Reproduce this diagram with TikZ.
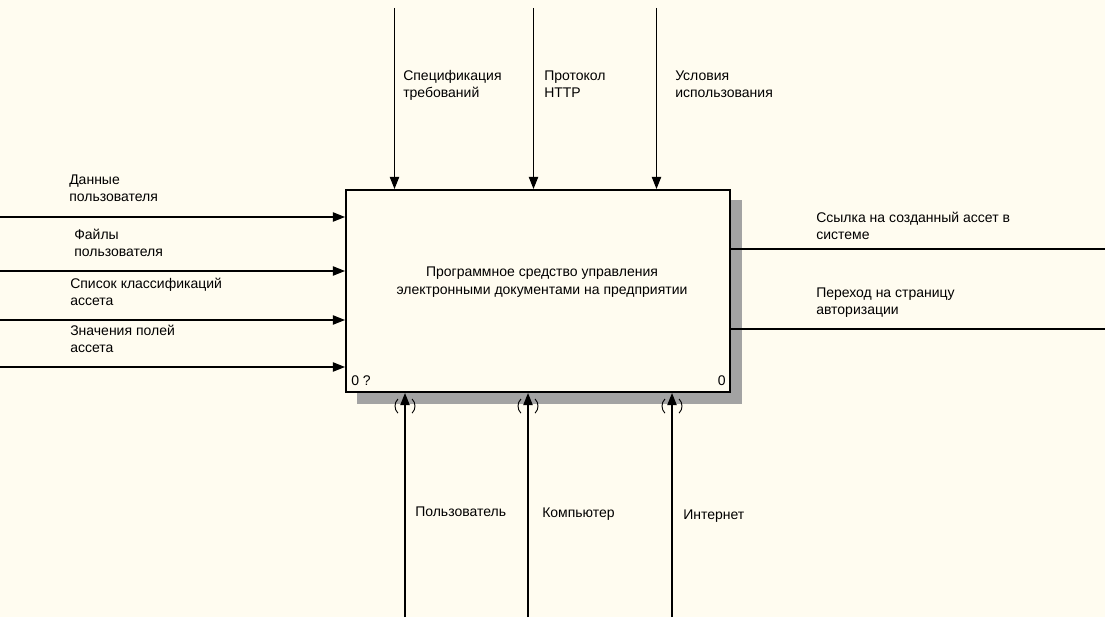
\documentclass[tikz,border=0pt]{standalone}
\usepackage{fontspec}
\setmainfont{Liberation Sans}
\usetikzlibrary{arrows.meta,positioning,patterns}
\definecolor{paper}{HTML}{FFFCF0}

\begin{document}
\begin{tikzpicture}[x=0.75pt,y=-0.75pt,>={Triangle[length=9pt,width=7pt]},
	flow/.style={->,line width=0.8pt},
	outflow/.style={line width=0.8pt},
	lbl/.style={anchor=base west,align=left,inner sep=0pt,font=\fontsize{10.5}{12.5}\selectfont},
	activity/.style={draw,line width=1.6pt,fill=paper,minimum width=288pt,minimum height=151.5pt,inner sep=0pt},
	shadowfill/.style={fill=black!36},
	tunnel/.style={line width=0.7pt}]
	
	\fill[paper] (0,0) rectangle (1105,617);
	\useasboundingbox (0,0) rectangle (1105,617);
	
	% shadow of the activity box
	\fill[shadowfill] (731,200) rectangle (742,404);
	\fill[shadowfill] (357,392) rectangle (742,404);
	
	\node[activity] (A0) at (538,291) {};
	\node[align=center,inner sep=0pt,font=\fontsize{10.5}{13}\selectfont] (A0text) at (542,282) {Программное средство управления\\электронными документами на предприятии};
	\node[lbl] (A0num) at (351,385.5) {0 ?};
	\node[lbl,anchor=base east] (A0node) at (726,385.5) {0};
	
	% inputs (labels are placed by the baseline of their last line)
	\coordinate (i1) at (0,217);
	\coordinate (i2) at (0,271);
	\coordinate (i3) at (0,320);
	\coordinate (i4) at (0,367);
	\draw[flow] (i1) -- (i1 -| A0.west);
	\draw[flow] (i2) -- (i2 -| A0.west);
	\draw[flow] (i3) -- (i3 -| A0.west);
	\draw[flow] (i4) -- (i4 -| A0.west);
	\node[lbl] (li1) at (69,201.5) {Данные\\пользователя};
	\node[lbl] (li2) at (74,256) {Файлы\\пользователя};
	\node[lbl] (li3) at (70,305) {Список классификаций\\ассета};
	\node[lbl] (li4) at (70,352.5) {Значения полей\\ассета};
	
	% controls
	\coordinate (c1) at (394.5,8);
	\coordinate (c2) at (533.5,8);
	\coordinate (c3) at (656.5,8);
	\draw[flow] (c1) -- (c1 |- A0.north);
	\draw[flow] (c2) -- (c2 |- A0.north);
	\draw[flow] (c3) -- (c3 |- A0.north);
	\node[lbl] (lc1) at (403,97.5) {Спецификация\\требований};
	\node[lbl] (lc2) at (544,97.5) {Протокол\\HTTP};
	\node[lbl] (lc3) at (675,97.5) {Условия\\использования};
	
	% outputs
	\coordinate (o1) at (1105,249);
	\coordinate (o2) at (1105,329);
	\draw[outflow] (o1 -| A0.east) -- (o1);
	\draw[outflow] (o2 -| A0.east) -- (o2);
	\node[lbl] (lo1) at (816,239) {Ссылка на созданный ассет в\\системе};
	\node[lbl] (lo2) at (816,314) {Переход на страницу\\авторизации};
	
	% mechanisms
	\coordinate (m1) at (405,617);
	\coordinate (m2) at (528,617);
	\coordinate (m3) at (672,617);
	\draw[flow] (m1) -- (m1 |- A0.south) coordinate (t1);
	\draw[flow] (m2) -- (m2 |- A0.south) coordinate (t2);
	\draw[flow] (m3) -- (m3 |- A0.south) coordinate (t3);
	\draw[tunnel] (t1) ++(0,13) ++(135:7.5pt) arc[start angle=135,end angle=225,radius=7.5pt];
	\draw[tunnel] (t1) ++(0,13) ++(45:7.5pt) arc[start angle=45,end angle=-45,radius=7.5pt];
	\draw[tunnel] (t2) ++(0,13) ++(135:7.5pt) arc[start angle=135,end angle=225,radius=7.5pt];
	\draw[tunnel] (t2) ++(0,13) ++(45:7.5pt) arc[start angle=45,end angle=-45,radius=7.5pt];
	\draw[tunnel] (t3) ++(0,13) ++(135:7.5pt) arc[start angle=135,end angle=225,radius=7.5pt];
	\draw[tunnel] (t3) ++(0,13) ++(45:7.5pt) arc[start angle=45,end angle=-45,radius=7.5pt];
	\node[lbl] (lm1) at (415,516) {Пользователь};
	\node[lbl] (lm2) at (542,517) {Компьютер};
	\node[lbl] (lm3) at (683,519) {Интернет};
\end{tikzpicture}
\end{document}
